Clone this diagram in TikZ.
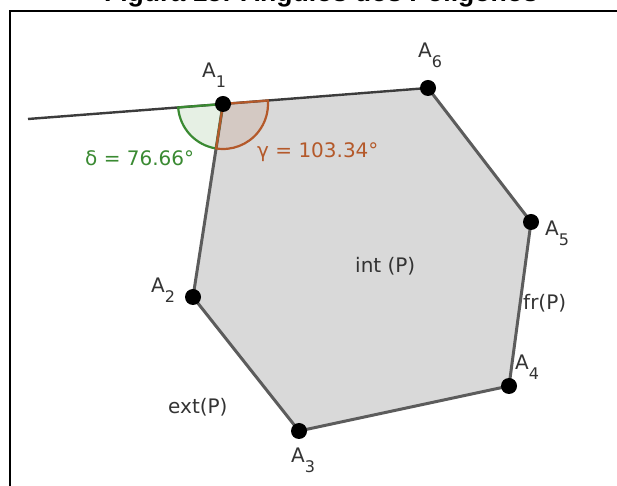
\documentclass[tikz,border=0pt]{standalone}
\usepackage{fontspec}
\setmainfont{DejaVu Sans}
\newfontfamily\titlefont{Liberation Sans}
\usetikzlibrary{calc}
\definecolor{edgegray}{HTML}{5C5C5C}
\definecolor{linegray}{HTML}{3C3C3C}
\definecolor{polyfill}{HTML}{D9D9D9}
\definecolor{deltagreen}{HTML}{3A8A32}
\definecolor{gammabrown}{HTML}{B4592A}
\definecolor{labelgray}{HTML}{333333}

\newcommand{\vname}[1]{A\raisebox{-10pt}{\fontsize{16}{16}\selectfont #1}}

\begin{document}
\begin{tikzpicture}[x=1pt, y=1pt,
  every node/.style={font=\fontsize{20}{24}\selectfont, inner sep=0pt, text=labelgray},
  edge/.style={draw=edgegray, line width=3pt, line join=round},
  extline/.style={draw=linegray, line width=2.4pt},
  vert/.style={circle, fill=black, minimum size=16pt, inner sep=0pt},
  lbl/.style={anchor=base west},
  deltasec/.style={draw=deltagreen, line width=2.2pt, fill=deltagreen, fill opacity=0.13},
  gammasec/.style={draw=gammabrown, line width=2.2pt, fill=gammabrown, fill opacity=0.12},
]
\useasboundingbox (0,0) rectangle (617,486);
\clip (0,0) rectangle (617,486);

%% Title (cut by the page) and frame
\node[anchor=base, font=\titlefont\bfseries\fontsize{26.6}{30}\selectfont, text=black] (title)
  at (321,484) {Figura 15: Ângulos dos Polígonos};
\draw[line width=2pt] (10,0) -- (10,475) -- (617,475);

%% Vertices
\coordinate (a1) at (223,382);
\coordinate (a2) at (193,189);
\coordinate (a3) at (299,55);
\coordinate (a4) at (509,100);
\coordinate (a5) at (531,264);
\coordinate (a6) at (428,398);
\coordinate (ext) at (28,367);

%% Polygon
\fill[polyfill] (a1) -- (a2) -- (a3) -- (a4) -- (a5) -- (a6) -- cycle;
\draw[edge] (a1) -- (a2) -- (a3) -- (a4) -- (a5) -- (a6);
\draw[extline] (ext) -- (a1) -- (a6);

%% Angles at A1
\draw[deltasec] (a1) -- ++(184.40:45) arc[start angle=184.40, end angle=261.16, radius=45] -- cycle;
\draw[gammasec] (a1) -- ++(261.16:45) arc[start angle=261.16, end angle=364.46, radius=45] -- cycle;

%% Points
\foreach \i in {1,...,6}
  \node[vert] (v\i) at (a\i) {};

%% Labels
\node[lbl] (l1) at (202,408) {\vname{1}};
\node[lbl] (l2) at (151,193) {\vname{2}};
\node[lbl] (l3) at (291,23) {\vname{3}};
\node[lbl] (l4) at (515,116) {\vname{4}};
\node[lbl] (l5) at (545,250) {\vname{5}};
\node[lbl] (l6) at (418,428) {\vname{6}};

\node[lbl] (intp) at (355,213) {int (P)};
\node[lbl] (frp) at (523,176) {fr(P)};
\node[lbl] (extp) at (168,72) {ext(P)};

\node[lbl, text=deltagreen] (delta) at (85,320) {δ = 76.66°};
\node[lbl, text=gammabrown] (gamma) at (257,328) {γ = 103.34°};

\end{tikzpicture}
\end{document}
